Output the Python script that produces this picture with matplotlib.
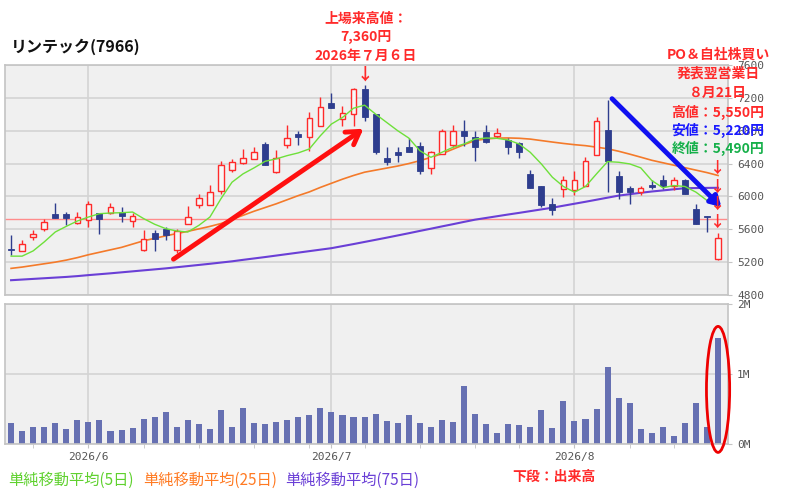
"""Lintec (7966) daily candles with moving averages and volume, Japanese annotations."""

import matplotlib
matplotlib.use("Agg")
import matplotlib.pyplot as plt
from matplotlib.patches import Ellipse
import numpy as np
import pandas as pd

plt.rcParams["font.family"] = ["Noto Sans CJK JP", "DejaVu Sans"]

# ---- data ----
dates = [
    "2026-05-21", "2026-05-22",
    "2026-05-25", "2026-05-26", "2026-05-27", "2026-05-28", "2026-05-29",
    "2026-06-01", "2026-06-02", "2026-06-03", "2026-06-04", "2026-06-05",
    "2026-06-08", "2026-06-09", "2026-06-10", "2026-06-11", "2026-06-12",
    "2026-06-15", "2026-06-16", "2026-06-17", "2026-06-18", "2026-06-19",
    "2026-06-22", "2026-06-23", "2026-06-24", "2026-06-25", "2026-06-26",
    "2026-06-29", "2026-06-30", "2026-07-01", "2026-07-02", "2026-07-03",
    "2026-07-06", "2026-07-07", "2026-07-08", "2026-07-09", "2026-07-10",
    "2026-07-13", "2026-07-14", "2026-07-15", "2026-07-16", "2026-07-17",
    "2026-07-21", "2026-07-22", "2026-07-23", "2026-07-24",
    "2026-07-27", "2026-07-28", "2026-07-29", "2026-07-30", "2026-07-31",
    "2026-08-03", "2026-08-04", "2026-08-05", "2026-08-06", "2026-08-07",
    "2026-08-10", "2026-08-12", "2026-08-13", "2026-08-14",
    "2026-08-17", "2026-08-18", "2026-08-19", "2026-08-20", "2026-08-21",
]
opens = [5365, 5337, 5507, 5608, 5782, 5782, 5681, 5717, 5802, 5802, 5810, 5701,
         5345, 5555, 5600, 5345, 5661, 5891, 5891, 6064, 6327, 6404, 6457, 6638,
         6303, 6630, 6760, 6727, 6852, 7135, 6942, 7002, 7305, 7002, 6469, 6537,
         6598, 6618, 6348, 6517, 6630, 6800, 6727, 6788, 6736, 6687, 6646, 6275,
         6121, 5903, 6093, 6073, 6133, 6509, 6812, 6254, 6101, 6060, 6145, 6206,
         6133, 6194, 5851, 5755, 5240]
highs = [5527, 5475, 5596, 5730, 5919, 5810, 5810, 5939, 5802, 5919, 5870, 5798,
         5588, 5588, 5628, 5600, 5879, 6033, 6142, 6428, 6457, 6578, 6606, 6666,
         6570, 6873, 6800, 7022, 7212, 7264, 7103, 7325, 7360, 7002, 6598, 6598,
         6711, 6658, 6557, 6820, 6873, 6933, 6800, 6869, 6833, 6707, 6658, 6323,
         6133, 5984, 6254, 6315, 6476, 6961, 7176, 6307, 6133, 6133, 6194, 6263,
         6234, 6214, 5911, 5757, 5550]
lows = [5285, 5330, 5467, 5580, 5740, 5648, 5670, 5628, 5548, 5790, 5689, 5628,
        5337, 5337, 5467, 5313, 5661, 5863, 5891, 6033, 6294, 6396, 6457, 6384,
        6287, 6590, 6630, 6557, 6852, 7082, 6860, 6860, 6913, 6517, 6384, 6416,
        6537, 6275, 6275, 6517, 6598, 6610, 6436, 6646, 6711, 6517, 6469, 6105,
        5870, 5770, 5992, 6012, 6133, 6509, 6052, 5972, 5911, 6012, 6093, 6093,
        6073, 6033, 5661, 5567, 5220]
closes = [5350, 5418, 5539, 5689, 5742, 5742, 5749, 5911, 5730, 5870, 5757, 5757,
          5487, 5479, 5527, 5579, 5749, 5979, 6060, 6384, 6424, 6469, 6545, 6384,
          6464, 6706, 6727, 6954, 7091, 7082, 7014, 7305, 6961, 6537, 6416, 6509,
          6537, 6307, 6537, 6800, 6800, 6731, 6598, 6658, 6772, 6598, 6537, 6105,
          5891, 5839, 6194, 6194, 6436, 6921, 6436, 6052, 6060, 6101, 6113, 6125,
          6194, 6033, 5661, 5745, 5490]
volumes_m = [0.30, 0.19, 0.25, 0.25, 0.30, 0.22, 0.34, 0.31, 0.34, 0.18, 0.20, 0.23,
             0.36, 0.38, 0.46, 0.25, 0.35, 0.29, 0.22, 0.48, 0.25, 0.51, 0.30, 0.28,
             0.32, 0.34, 0.38, 0.41, 0.52, 0.46, 0.41, 0.39, 0.38, 0.43, 0.33, 0.30,
             0.41, 0.30, 0.25, 0.34, 0.31, 0.83, 0.43, 0.29, 0.16, 0.29, 0.27, 0.25,
             0.49, 0.23, 0.61, 0.33, 0.36, 0.50, 1.10, 0.66, 0.59, 0.21, 0.16, 0.24,
             0.11, 0.30, 0.59, 0.24, 1.51]
ma5 = [5273, 5273, 5337, 5446, 5567, 5636, 5701, 5749, 5790, 5798, 5802, 5810,
       5730, 5661, 5608, 5579, 5567, 5648, 5749, 5972, 6173, 6275, 6348, 6428,
       6457, 6497, 6530, 6578, 6739, 6881, 6961, 7074, 7111, 7002, 6901, 6800,
       6711, 6557, 6476, 6537, 6598, 6638, 6699, 6711, 6707, 6687, 6638, 6537,
       6396, 6234, 6121, 6052, 6121, 6275, 6424, 6416, 6396, 6348, 6194, 6105,
       6133, 6121, 6052, 5951, 5879]
ma25 = [5124, 5140, 5160, 5180, 5200, 5225, 5255, 5290, 5320, 5350, 5380, 5420,
        5460, 5490, 5520, 5548, 5575, 5605, 5635, 5670, 5720, 5770, 5820, 5865,
        5910, 5960, 6010, 6055, 6110, 6160, 6210, 6255, 6295, 6320, 6345, 6370,
        6400, 6435, 6475, 6520, 6575, 6630, 6680, 6700, 6710, 6712, 6708, 6698,
        6680, 6662, 6645, 6630, 6618, 6600, 6580, 6550, 6515, 6478, 6440, 6410,
        6380, 6350, 6320, 6290, 6255]
ma75 = [4980, 4988, 4996, 5004, 5012, 5020, 5030, 5042, 5053, 5064, 5076, 5088,
        5100, 5112, 5124, 5138, 5152, 5166, 5180, 5195, 5210, 5228, 5245, 5262,
        5280, 5298, 5316, 5334, 5352, 5370, 5395, 5420, 5446, 5472, 5498, 5525,
        5552, 5580, 5607, 5635, 5662, 5690, 5717, 5738, 5759, 5780, 5800, 5821,
        5842, 5863, 5887, 5911, 5935, 5960, 5985, 6010, 6027, 6044, 6060, 6073,
        6087, 6100, 6102, 6104, 6105]
ref_price = 5730

RED = "#ff2a2a"
NAVY = "#2e3d8e"
VOL = "#6670b2"
BG = "#f0f0f0"
GRID = "#d4d4d4"
SPINE = "#c4c4c4"
TICK = "#555555"
MONO = "DejaVu Sans Mono"

W, H = 799, 496


def fx(px):
    return px / W


def fy(py):
    return 1 - py / H


def style_axes(ax):
    ax.set_facecolor(BG)
    for sp in ax.spines.values():
        sp.set_color(SPINE)
        sp.set_linewidth(1.2)
    ax.tick_params(axis="y", which="both", right=True, left=False, labelright=True,
                   labelleft=False, length=3, color=SPINE, labelcolor=TICK, labelsize=8)


def main():
    dt = pd.to_datetime(dates)
    xs = np.arange(len(dates))
    o = np.array(opens)
    h = np.array(highs)
    l = np.array(lows)
    c = np.array(closes)
    up = c >= o

    # week starts and month starts from the calendar
    week_ticks = [i for i in range(1, len(dt)) if dt[i].weekday() < dt[i - 1].weekday()]
    month_ticks = [i for i in range(1, len(dt)) if dt[i].month != dt[i - 1].month]
    month_labels = [f"{dt[i].year}/{dt[i].month}" for i in month_ticks]

    fig = plt.figure(figsize=(W / 100, H / 100), dpi=100)
    ax = fig.add_axes([fx(5), fy(295), fx(728 - 5), (295 - 65) / H])
    axv = fig.add_axes([fx(5), fy(444), fx(728 - 5), (444 - 304) / H])

    xlim = (-0.55, 64.9)

    # ---- price panel ----
    style_axes(ax)
    ax.set_xlim(*xlim)
    ax.set_ylim(4800, 7600)
    ax.set_yticks(np.arange(4800, 7601, 400))
    ax.set_yticklabels([str(v) for v in range(4800, 7601, 400)], family=MONO)
    ax.set_xticks([])
    ax.grid(axis="y", color=GRID, linewidth=1.2)
    for m in month_ticks:
        ax.axvline(m, color=GRID, linewidth=1.2, zorder=0.5)
    ax.set_axisbelow(True)
    ax.axhline(ref_price, color="#ff8c8c", linewidth=1.0, zorder=1)

    ax.plot(xs, ma75, color="#6a3fd6", linewidth=1.5, zorder=2)
    ax.plot(xs, ma25, color="#f47a2a", linewidth=1.2, zorder=2)
    ax.plot(xs, ma5, color="#6ee03a", linewidth=1.0, zorder=4)

    colors = np.where(up, RED, NAVY)
    ax.vlines(xs, l, h, colors=colors, linewidth=1.0, zorder=3)
    body_lo = np.minimum(o, c)
    body_h = np.maximum(np.abs(c - o), 14)
    ax.bar(xs[up], body_h[up], bottom=body_lo[up], width=0.5,
           facecolor="#f7f7f7", edgecolor=RED, linewidth=1.0, zorder=3.5)
    ax.bar(xs[~up], body_h[~up], bottom=body_lo[~up], width=0.55,
           facecolor=NAVY, edgecolor=NAVY, linewidth=0.6, zorder=3.5)

    # trend arrows
    ax.annotate("", xy=(31.9, 6824), xytext=(14.7, 5236),
                arrowprops=dict(arrowstyle="->,head_length=0.9,head_width=0.55",
                                color="#ff1010", lw=3.5, shrinkA=0, shrinkB=0),
                zorder=6)
    ax.annotate("", xy=(64.3, 5870), xytext=(54.4, 7190),
                arrowprops=dict(arrowstyle="-|>,head_length=0.6,head_width=0.35",
                                color="#1010f0", lw=3.5, shrinkA=0, shrinkB=0),
                zorder=6)

    # ---- volume panel ----
    style_axes(axv)
    axv.set_xlim(*xlim)
    axv.set_ylim(0, 2.0e6)
    axv.set_yticks([0, 1e6, 2e6])
    axv.set_yticklabels(["0M", "1M", "2M"], family=MONO)
    axv.grid(axis="y", color=GRID, linewidth=1.2)
    axv.set_axisbelow(True)
    for m in month_ticks:
        axv.axvline(m, color=GRID, linewidth=1.2, zorder=0.5)
    axv.bar(xs, np.array(volumes_m) * 1e6, width=0.55, color=VOL, zorder=2)

    axv.set_xticks(month_ticks)
    axv.set_xticklabels(month_labels, family=MONO, fontsize=8, color=TICK)
    axv.set_xticks(week_ticks, minor=True)
    axv.tick_params(axis="x", which="both", length=3, color=SPINE, pad=3)

    axv.add_patch(Ellipse((64, 0.78e6), width=2.1, height=1.8e6, fill=False,
                          edgecolor="#ee0000", linewidth=2.0, clip_on=False, zorder=5))

    # ---- texts ----
    fig.text(fx(11), fy(47), "リンテック(7966)", fontsize=11.5, fontweight="bold",
             color="#111111", va="center", ha="left")

    for txt, y in [("上場来高値：", 19), ("7,360円", 37), ("2026年７月６日", 56)]:
        fig.text(fx(366), fy(y), txt, fontsize=10, fontweight="bold", color=RED,
                 ha="center", va="center")
    fig.text(fx(365), fy(75), "↓", fontsize=12, fontweight="bold", color=RED,
             ha="center", va="center")

    right_lines = [
        ("PO＆自社株買い", 55, RED),
        ("発表翌営業日", 74, RED),
        ("８月21日", 93, RED),
        ("高値：5,550円", 112, RED),
        ("安値：5,220円", 130, "#1a1aff"),
        ("終値：5,490円", 148, "#16b04a"),
    ]
    for txt, y, col in right_lines:
        fig.text(fx(718), fy(y), txt, fontsize=10, fontweight="bold", color=col,
                 ha="center", va="center")
    for y in (168, 187, 204, 222):
        fig.text(fx(718), fy(y), "↓", fontsize=11, fontweight="bold", color=RED,
                 ha="center", va="center")

    legend_items = [
        ("単純移動平均(5日)", 8, "#5fd12e"),
        ("単純移動平均(25日)", 143, "#ff7a22"),
        ("単純移動平均(75日)", 285, "#6a3fd6"),
    ]
    for txt, x, col in legend_items:
        fig.text(fx(x), fy(480), txt, fontsize=11, color=col, ha="left", va="center")
    fig.text(fx(554), fy(477), "下段：出来高", fontsize=10, fontweight="bold",
             color=RED, ha="center", va="center")

    fig.savefig("out.png", dpi=100)


if __name__ == "__main__":
    main()
